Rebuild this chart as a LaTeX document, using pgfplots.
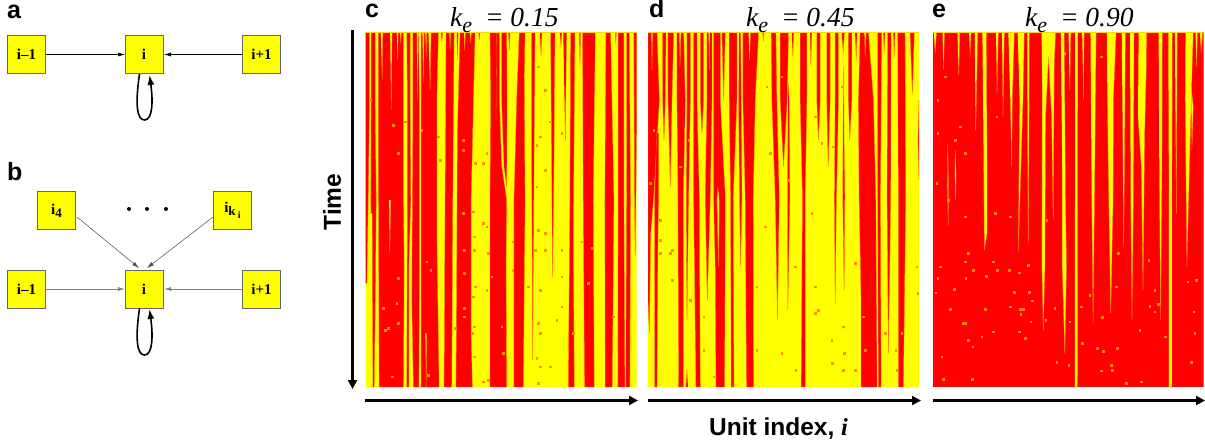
\documentclass[border=0pt]{standalone}
\usepackage{fontspec}
\setmainfont{Liberation Sans}
\newfontfamily\serif{Liberation Serif}
\usepackage{pgfplots}
\pgfplotsset{compat=1.18}
\usetikzlibrary{arrows.meta}
\definecolor{edge}{HTML}{FF7A00}
\definecolor{spk}{HTML}{FF8C00}
\definecolor{yl}{RGB}{255,255,0}
\definecolor{rd}{RGB}{255,0,0}
\definecolor{band}{HTML}{FFD800}
\pgfplotsset{
  rs/.style={fill=rd,draw=edge,line width=.3pt,forget plot},
  ys/.style={fill=yl,draw=edge,line width=.3pt,forget plot},
  dots/.style={only marks,mark=square*,mark size=.8pt,color=spk,mark options={draw=none,fill=spk},forget plot},
  panel/.style={scale only axis,width=271pt,height=355pt,hide axis,y dir=reverse,ymin=96,ymax=1161,clip=true}
}
\newcommand\R[1]{\addplot[rs] coordinates {#1};}
\newcommand\Y[1]{\addplot[ys] coordinates {#1};}
\newcommand\lab[3]{\node[anchor=base west,inner sep=0pt,font=\fontsize{25}{25}\selectfont\bfseries] at (#1pt,-#2pt) {#3};}
\newcommand\bx[3]{\node[draw=black!60,fill=yl,line width=.7pt,minimum size=38pt,inner sep=0pt,font=\serif\bfseries\fontsize{15}{15}\selectfont] at (#1pt,-#2pt) {#3};}
\newcommand\ttl[3]{\node[anchor=base west,inner sep=0pt,font=\serif\itshape\fontsize{27.5}{27}\selectfont] at (#1pt,-27pt) {k\raisebox{-6pt}{\fontsize{22}{22}\selectfont e}\hspace{6pt} = #2};}
\begin{document}
\begin{tikzpicture}
\useasboundingbox (0,0) rectangle (1205pt,-444pt);
% panel c
\begin{axis}[panel,at={(365.5pt,-32pt)},anchor=north west,xmin=16,xmax=830]
\addplot[fill=yl,draw=none,forget plot] coordinates {(16,96)(830,96)(830,1161)(16,1161)};
\R{(16,96)(16,850)(20,850)(24,600)(28,300)(28,96)}
\R{(33,96)(33,300)(32,600)(36,1000)(38,1161)(42,1161)(46,850)(48,600)(45,300)(45,96)}
\R{(55,96)(55,600)(57,1161)(130,1161)(132,800)(130,600)(130,96)}
\R{(140,96)(142,300)(142,600)(140,1161)(146,1161)(146,800)(152,600)(150,300)(150,96)}
\R{(158,96)(158,400)(155,900)(160,1161)(176,1161)(178,800)(178,300)(175,96)}
\R{(183,96)(183,1161)(237,1161)(230,700)(230,300)(235,96)}
\R{(258,96)(255,600)(252,1161)(275,1161)(278,600)(282,96)}
\R{(300,96)(292,400)(290,800)(288,1161)(337,1161)(333,1000)(333,600)(345,96)}
\R{(390,96)(392,300)(390,600)(390,1161)(440,1161)(438,800)(440,600)(425,500)(418,300)(418,96)}
\R{(425,96)(425,300)(432,500)(440,560)(441,300)(440,96)}
\R{(478,96)(470,300)(462,600)(462,1161)(490,1161)(495,600)(492,96)}
\R{(515,96)(515,500)(517,800)(518,1080)(520,800)(522,500)(525,96)}
\R{(572,96)(576,600)(578,830)(581,600)(585,96)}
\R{(632,96)(630,600)(625,1161)(643,1161)(640,700)(645,96)}
\R{(668,96)(670,600)(674,1161)(703,1161)(700,600)(706,96)}
\R{(738,96)(735,600)(736,1161)(757,1161)(762,600)(752,96)}
\R{(775,96)(775,600)(774,1161)(795,1161)(792,600)(792,96)}
\R{(800,96)(800,600)(798,1161)(810,1161)(812,600)(808,96)}
\R{(822,96)(824,600)(826,770)(828,600)(830,400)(830,96)}
\Y{(62,96)(68,96)(66,240)}
\Y{(90,96)(96,96)(93,330)}
\Y{(110,96)(114,96)(113,180)}
\Y{(170,96)(174,96)(172,300)}
\Y{(187,96)(192,96)(190,250)}
\Y{(196,96)(200,96)(198,170)}
\Y{(205,96)(213,96)(210,270)}
\Y{(26,640)(36,640)(38,1161)(22,1161)}
\Y{(196,1000)(200,1000)(198,1161)}
\Y{(87,600)(92,600)(89,760)}
\Y{(312,96)(316,96)(314,150)}
\Y{(330,96)(334,96)(332,130)}
\Y{(268,96)(272,96)(270,150)}
\Y{(120,96)(124,96)(122,130)}
\R{(490,96)(495,96)(493,220)}
\R{(540,96)(546,96)(543,170)}
\R{(600,96)(606,96)(603,140)}
\R{(610,96)(620,96)(616,420)}
\R{(405,96)(410,96)(408,360)}
\R{(355,96)(360,96)(358,120)}
\R{(243,96)(248,96)(245,125)}
\R{(290,96)(294,96)(292,180)}
\R{(445,96)(450,96)(448,150)}
\R{(658,96)(662,96)(660,200)}
\R{(770,96)(766,96)(768,130)}
\addplot[fill=band,draw=none,forget plot] coordinates {(16,96)(830,96)(830,99)(16,99)};
\addplot[dots] coordinates {(340,635)(342,710)(342,750)(345,860)(340,890)(342,980)(338,1000)(342,1070)(370,670)(380,680)(385,760)(380,870)(370,1145)(385,1140)(310,640)(312,750)(312,820)(312,925)(312,950)(285,985)(200,785)(212,810)(115,835)(70,925)(110,910)(115,970)(85,985)(75,990)(97,1130)(205,1125)(430,1060)(425,980)(395,830)(458,725)(458,810)(535,690)(555,700)(525,750)(555,750)(605,750)(540,870)(505,860)(605,830)(605,920)(590,960)(535,970)(540,1000)(530,1075)(570,1100)(540,1100)(535,1150)(640,1000)(665,725)(695,745)(685,850)(760,950)(535,200)(555,270)(540,410)(570,365)(605,400)(530,435)(555,510)(530,560)(380,460)(345,490)(370,490)(235,410)(240,480)(310,420)(310,450)(135,365)(100,375)(185,390)(30,300)(115,460)};
\end{axis}
% panel d
\begin{axis}[panel,at={(648pt,-32pt)},anchor=north west,xmin=18,xmax=832]
\addplot[fill=yl,draw=none,forget plot] coordinates {(18,96)(832,96)(832,1161)(18,1161)};
\R{(18,96)(18,590)(18,900)(22,1000)(26,700)(35,590)(52,300)(45,96)}
\R{(44,400)(38,590)(38,1161)(45,1161)(48,700)(50,590)(50,400)}
\R{(62,96)(62,300)(66,420)(70,300)(72,96)}
\R{(78,96)(78,300)(85,560)(90,300)(95,96)}
\R{(105,96)(105,300)(108,590)(110,1161)(124,1161)(124,590)(130,300)(125,96)}
\R{(135,96)(135,300)(133,590)(135,960)(140,590)(145,300)(145,96)}
\R{(135,1110)(132,1161)(138,1161)}
\R{(155,96)(155,300)(155,590)(162,1161)(175,1161)(172,590)(165,300)(165,96)}
\R{(175,96)(175,300)(180,400)(185,300)(185,96)}
\R{(195,96)(195,300)(190,590)(196,900)(205,590)(210,300)(210,96)}
\R{(215,96)(215,300)(215,590)(220,800)(222,1161)(248,1161)(250,590)(235,300)(235,96)}
\R{(240,96)(245,300)(250,96)}
\R{(262,96)(262,300)(266,590)(268,1161)(276,1161)(274,590)(285,300)(285,96)}
\R{(290,300)(293,590)(296,800)(300,590)(298,300)(296,96)(292,96)}
\R{(303,96)(303,300)(310,590)(314,1161)(335,1161)(334,590)(340,300)(350,96)}
\R{(388,96)(390,300)(400,590)(407,960)(412,590)(405,300)(402,96)}
\R{(415,96)(415,300)(425,500)(436,300)(440,96)}
\R{(439,250)(437,590)(438,930)(444,590)(442,300)}
\R{(475,96)(475,300)(482,590)(478,1161)(490,1161)(490,590)(495,300)(495,96)}
\R{(525,96)(525,300)(530,420)(535,300)(535,96)}
\R{(555,96)(555,300)(559,500)(565,300)(565,96)}
\R{(580,96)(580,300)(578,590)(580,910)(584,590)(590,300)(590,96)}
\R{(620,96)(620,300)(624,420)(630,300)(630,96)}
\R{(605,200)(603,590)(607,870)(609,590)}
\R{(655,96)(650,300)(652,590)(658,900)(658,1161)(706,1161)(702,590)(695,300)(680,96)}
\R{(708,96)(708,590)(710,1161)(718,1161)(716,590)(720,96)}
\R{(738,96)(736,590)(740,1060)(747,590)(748,96)}
\R{(768,96)(770,590)(770,1161)(785,1161)(792,590)(790,96)}
\R{(805,96)(812,280)(818,96)}
\R{(832,300)(829,420)(832,540)}
\Y{(228,560)(225,600)(230,800)(232,600)}
\Y{(28,96)(32,96)(30,210)}
\Y{(112,96)(117,96)(114,200)}
\Y{(320,96)(326,96)(323,180)}
\Y{(200,96)(204,96)(202,210)}
\Y{(668,96)(673,96)(670,170)}
\R{(362,96)(366,96)(364,125)}
\R{(450,96)(456,96)(453,170)}
\R{(505,96)(510,96)(507,200)}
\R{(600,96)(608,96)(604,160)}
\R{(640,96)(646,96)(643,180)}
\R{(725,96)(730,96)(727,160)}
\R{(755,96)(760,96)(757,175)}
\addplot[fill=band,draw=none,forget plot] coordinates {(18,96)(832,96)(832,99)(18,99)};
\addplot[dots] coordinates {(55,660)(55,720)(55,760)(90,750)(85,760)(90,840)(145,900)(185,950)(185,1050)(215,1130)(345,860)(345,1050)(370,680)(420,1060)(462,1110)(460,800)(510,640)(520,860)(520,940)(530,930)(570,1020)(572,1090)(605,980)(608,1060)(605,1110)(640,790)(665,950)(670,1050)(640,1110)(825,800)(828,880)(780,1000)(762,1050)(765,1110)(730,1000)(375,260)(385,460)(420,230)(520,350)(540,430)(575,440)(600,260)(440,540)(140,420)(115,500)(25,550)(35,390)};
\end{axis}
% panel e
\begin{axis}[panel,at={(932.5pt,-32pt)},anchor=north west,xmin=22,xmax=837]
\addplot[fill=rd,draw=none,forget plot] coordinates {(22,96)(837,96)(837,1161)(22,1161)};
\Y{(26,96)(34,96)(30,160)}
\Y{(52,96)(58,96)(55,210)}
\Y{(97,96)(104,96)(101,225)}
\Y{(132,96)(138,96)(135,170)}
\Y{(149,96)(158,96)(152,390)}
\Y{(172,96)(184,96)(186,500)(186,700)(178,750)(176,500)}
\Y{(213,96)(220,96)(216,280)}
\Y{(231,96)(238,96)(234,350)}
\Y{(250,96)(268,96)(262,300)(260,500)(256,300)}
\Y{(278,96)(298,96)(294,300)(280,755)(284,300)}
\Y{(307,96)(313,96)(312,400)(310,730)(308,400)}
\Y{(350,96)(392,96)(388,200)(385,660)(380,350)(371,170)(362,350)(360,800)(355,990)(351,800)(352,250)}
\Y{(408,96)(418,96)(422,600)(425,800)(420,1060)(412,800)(412,500)}
\Y{(431,96)(438,96)(435,270)}
\Y{(451,96)(459,96)(458,1161)(450,1161)}
\Y{(472,96)(478,96)(476,300)}
\Y{(497,96)(514,96)(510,500)(505,970)(500,500)}
\Y{(546,96)(574,96)(566,300)(565,600)(558,940)(552,600)(548,300)}
\Y{(591,96)(602,96)(600,400)(597,740)(594,400)}
\Y{(616,96)(628,96)(626,600)(622,960)(618,600)}
\Y{(642,96)(666,96)(665,200)(660,400)(655,870)(650,500)(640,350)}
\Y{(702,96)(713,96)(712,500)(708,960)(704,500)}
\Y{(731,96)(743,96)(742,600)(742,1161)(733,1161)(733,600)}
\Y{(751,96)(758,96)(755,640)}
\Y{(783,96)(806,96)(800,300)(792,600)(787,800)(782,300)}
\Y{(800,260)(806,320)(802,450)}
\Y{(813,96)(819,96)(816,200)}
\Y{(826,96)(834,96)(830,160)}
\Y{(68,430)(70,560)(69,675)(67,560)}
\Y{(90,450)(93,520)(92,600)(89,520)}
\addplot[fill=band,draw=none,forget plot] coordinates {(22,96)(837,96)(837,99)(22,99)};
\addplot[dots] coordinates {(130,760)(120,785)(205,785)(45,800)(145,810)(217,810)(253,810)(38,835)(122,835)(183,828)(282,818)(310,795)(32,878)(88,868)(268,876)(313,876)(322,902)(75,927)(115,970)(122,970)(255,920)(285,928)(295,928)(287,942)(317,965)(390,925)(205,995)(282,995)(170,1010)(130,1020)(300,1015)(143,1040)(50,1070)(55,1138)(142,1138)(395,1087)(432,1095)(518,1045)(535,1053)(577,1045)(560,1095)(562,1110)(530,1112)(605,1150)(650,1145)(800,1087)(722,1010)(645,990)(532,952)(472,1030)(470,920)(435,965)(362,960)(675,918)(690,935)(700,912)(808,935)(815,840)(790,845)(690,870)(575,860)(495,885)(180,928)(810,1000)(580,760)(672,780)(38,300)(38,400)(60,230)(105,380)(70,600)(120,460)(90,420)(35,550)(420,160)(530,170)(215,350)(120,650)(210,640)(255,650)(365,660)};
\end{axis}
% arrows
\draw[line width=2.6pt,-{Triangle[length=9pt,width=9pt]}] (365pt,-400.5pt)--(638pt,-400.5pt);
\draw[line width=2.6pt,-{Triangle[length=9pt,width=9pt]}] (648pt,-400.5pt)--(921pt,-400.5pt);
\draw[line width=2.6pt,-{Triangle[length=9pt,width=9pt]}] (933pt,-400.5pt)--(1205pt,-400.5pt);
\draw[line width=2.6pt,-{Triangle[length=9pt,width=9pt]}] (352.5pt,-30pt)--(352.5pt,-389pt);
% panel letters and titles
\lab{7}{18.5}{a}\lab{7}{180}{b}\lab{365}{18}{c}\lab{649}{18}{d}\lab{932}{18}{e}
\ttl{450}{0.15}{}\ttl{746}{0.45}{}\ttl{1025}{0.90}{}
\node[rotate=90,anchor=center,inner sep=0pt,font=\fontsize{24.5}{25}\selectfont\bfseries] at (332pt,-202pt) {Time};
\node[anchor=base west,inner sep=0pt,font=\fontsize{24.5}{25}\selectfont\bfseries] at (709pt,-435pt) {Unit index, {\serif\itshape i}};
% diagrams
\bx{26.5}{54.5}{i–1}\bx{144}{54.5}{i}\bx{261.5}{54.5}{i+1}
\bx{26.5}{289}{i–1}\bx{144}{289}{i}\bx{261.5}{289}{i+1}
\bx{56.5}{210.5}{i\raisebox{-3pt}{\fontsize{13}{13}\selectfont 4}}
\bx{232.5}{210.5}{i\raisebox{-3pt}{\fontsize{13}{13}\selectfont k\,\raisebox{-3pt}{\fontsize{10}{10}\selectfont i}}}
\foreach \x in {129,147,166}{\fill (\x pt,-209pt) circle (2pt);}
\draw[black,line width=.5pt,-{Latex[length=7pt,width=4pt]}] (46pt,-54.5pt)--(125pt,-54.5pt);
\draw[black,line width=.5pt,-{Latex[length=7pt,width=4pt]}] (242pt,-54.5pt)--(164pt,-54.5pt);
\draw[black!50,line width=.8pt,-{Latex[length=7pt,width=4pt]}] (46pt,-289pt)--(125pt,-289pt);
\draw[black!50,line width=.8pt,-{Latex[length=7pt,width=4pt]}] (242pt,-289pt)--(164pt,-289pt);
\draw[black!70,line width=.5pt,-{Latex[length=7pt,width=4pt]}] (77pt,-217pt)--(139pt,-268pt);
\draw[black!70,line width=.5pt,-{Latex[length=7pt,width=4pt]}] (213pt,-217pt)--(147pt,-268pt);
\draw[line width=1.6pt,-{Latex[length=10pt,width=7pt]}] (139.5pt,-74pt) .. controls (135pt,-105pt) and (137pt,-120pt) .. (144.5pt,-120pt) .. controls (153pt,-120pt) and (153pt,-100pt) .. (149.5pt,-75pt);
\draw[line width=1.6pt,-{Latex[length=10pt,width=7pt]}] (139.5pt,-308.5pt) .. controls (135pt,-339pt) and (137pt,-355pt) .. (144.5pt,-355pt) .. controls (153pt,-355pt) and (153pt,-335pt) .. (149.5pt,-309pt);
\end{tikzpicture}
\end{document}
